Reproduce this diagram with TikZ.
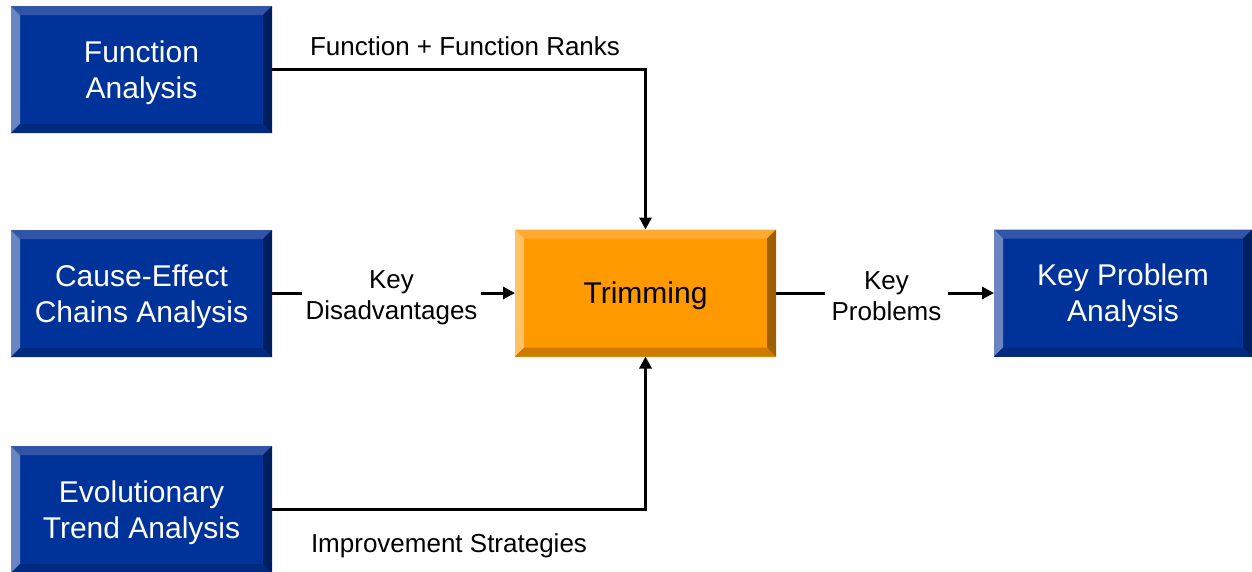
\documentclass[tikz,border=0pt]{standalone}
\usepackage{fontspec}
\setmainfont{Liberation Sans}
\usetikzlibrary{arrows.meta}

% Bevel palette: blue process boxes
\definecolor{bFace}{HTML}{003399}
\definecolor{bTop}{HTML}{3355A8}
\definecolor{bLeft}{HTML}{6B85C3}
\definecolor{bBottom}{HTML}{002A80}
\definecolor{bRight}{HTML}{001F5E}
% Bevel palette: orange central box
\definecolor{oFace}{HTML}{FF9900}
\definecolor{oTop}{HTML}{FFAB33}
\definecolor{oLeft}{HTML}{FFC266}
\definecolor{oBottom}{HTML}{CC7A00}
\definecolor{oRight}{HTML}{9E5F00}

\newlength{\bw}
\setlength{\bw}{9pt}
\newcommand{\drawbevels}[4]{%
  \fill[#1] (path picture bounding box.north west) -- (path picture bounding box.north east)
     -- ([xshift=-\bw,yshift=-\bw]path picture bounding box.north east)
     -- ([xshift=\bw,yshift=-\bw]path picture bounding box.north west) -- cycle;
  \fill[#2] (path picture bounding box.north west) -- (path picture bounding box.south west)
     -- ([xshift=\bw,yshift=\bw]path picture bounding box.south west)
     -- ([xshift=\bw,yshift=-\bw]path picture bounding box.north west) -- cycle;
  \fill[#3] (path picture bounding box.south west) -- (path picture bounding box.south east)
     -- ([xshift=-\bw,yshift=\bw]path picture bounding box.south east)
     -- ([xshift=\bw,yshift=\bw]path picture bounding box.south west) -- cycle;
  \fill[#4] (path picture bounding box.north east) -- (path picture bounding box.south east)
     -- ([xshift=-\bw,yshift=\bw]path picture bounding box.south east)
     -- ([xshift=-\bw,yshift=-\bw]path picture bounding box.north east) -- cycle;
}

\tikzset{
  box/.style={rectangle, inner sep=0pt, outer sep=0pt, minimum width=261pt,
    minimum height=127pt, align=center, text depth=-7pt,
    font=\fontsize{30}{36}\selectfont},
  bluebox/.style={box, fill=bFace, text=white,
    path picture={\drawbevels{bTop}{bLeft}{bBottom}{bRight}}},
  orangebox/.style={box, fill=oFace, text=black,
    path picture={\drawbevels{oTop}{oLeft}{oBottom}{oRight}}},
  lbl/.style={align=center, inner ysep=0pt, font=\fontsize{26}{31}\selectfont},
  conn/.style={line width=3pt},
  arr/.style={conn, -{Triangle[length=12pt,width=12pt]}}
}

\begin{document}
\begin{tikzpicture}[x=1pt,y=-1pt]
  \useasboundingbox (0,0) rectangle (1252,571);

  % process boxes
  \node[bluebox] (fa) at (141.5,69.5) {Function\\Analysis};
  \node[bluebox] (ce) at (141.5,293.5) {Cause-Effect\\Chains Analysis};
  \node[bluebox] (et) at (141.5,509.5) {Evolutionary\\Trend Analysis};
  \node[orangebox] (tr) at (645.5,293) {Trimming};
  \node[bluebox, minimum width=258pt] (kp) at (1123,293) {Key Problem\\Analysis};

  % connector labels
  \node[lbl] (ranks) at (465,46) {Function + Function Ranks};
  \node[lbl] (strat) at (449,546) {Improvement Strategies};
  \node[lbl, inner xsep=3pt] (kd) at (391.5,297.5) {Key\\Disadvantages};
  \node[lbl, inner xsep=6pt] (kpr) at (886.5,296) {Key\\Problems};

  % connectors
  \draw[arr] (fa.east) -| (tr.north);
  \draw[arr] (et.east) -| (tr.south);
  \draw[conn] (ce.east) -- (ce.east -| kd.west);
  \draw[arr] (tr.west -| kd.east) -- (tr.west);
  \draw[conn] (tr.east) -- (tr.east -| kpr.west);
  \draw[arr] (kp.west -| kpr.east) -- (kp.west);
\end{tikzpicture}
\end{document}
